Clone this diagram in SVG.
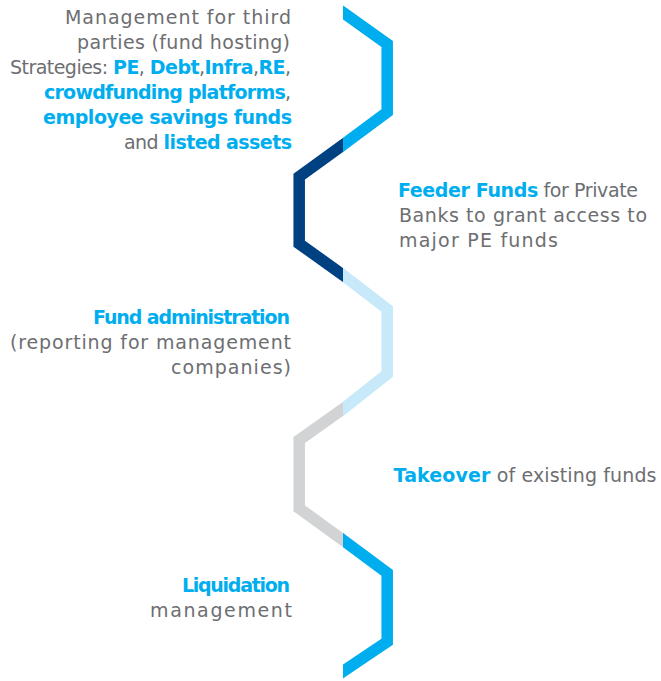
<svg xmlns="http://www.w3.org/2000/svg" width="661" height="681" viewBox="0 0 661 681">
<style>
.t{font-family:"DejaVu Sans","Liberation Sans",sans-serif;font-size:19px;fill:#6d6e71}
.b{font-weight:bold;fill:#00aeef}
.seg{fill:none;stroke-width:11.5;stroke-linejoin:miter;stroke-miterlimit:10;stroke-linecap:butt}
</style>
<defs>
<clipPath id="cr"><rect x="343" y="0" width="318" height="681"/></clipPath>
<clipPath id="cl"><rect x="0" y="0" width="343" height="681"/></clipPath>
</defs>
<g id="connectors">
<polyline class="seg" clip-path="url(#cr)" stroke="#00aeef" points="330,3.2 343,12.5 387.2,44 387.2,112 343,145 330,154.7"/>
<polyline class="seg" clip-path="url(#cl)" stroke="#004182" points="356,135.7 343,145 299.2,176.7 299.2,243.7 343,275 356,284.3"/>
<polyline class="seg" clip-path="url(#cr)" stroke="#c7e9f9" points="330,265.2 343,275 387.2,309 387.2,374 343,409 330,419.3"/>
<polyline class="seg" clip-path="url(#cl)" stroke="#d1d3d4" points="356,399.7 343,409 299.2,440 299.2,508.3 343,540 356,549.4"/>
<polyline class="seg" clip-path="url(#cr)" stroke="#00aeef" points="330,530.3 343,540 387.2,573 387.2,641.7 343,671.5 330,680.3"/>
</g>
<g id="management" text-anchor="end">
<text class="t" x="291" y="24" textLength="226">Management for third</text>
<text class="t" x="290" y="49" textLength="213">parties (fund hosting)</text>
<text class="t" x="291" y="74" textLength="281">Strategies: <tspan class="b">PE</tspan>, <tspan class="b">Debt</tspan>,<tspan class="b">Infra</tspan>,<tspan class="b">RE</tspan>,</text>
<text class="t" x="291" y="99" textLength="247"><tspan class="b">crowdfunding platforms</tspan>,</text>
<text class="t" x="292" y="124" textLength="249"><tspan class="b">employee savings funds</tspan></text>
<text class="t" x="292" y="149" textLength="168">and <tspan class="b">listed assets</tspan></text>
</g>
<g id="feeder">
<text class="t" x="398" y="197" textLength="240"><tspan class="b">Feeder Funds</tspan> for Private</text>
<text class="t" x="399" y="222" textLength="248">Banks to grant access to</text>
<text class="t" x="399" y="247" textLength="159">major PE funds</text>
</g>
<g id="administration" text-anchor="end">
<text class="t" x="290" y="324" textLength="197"><tspan class="b">Fund administration</tspan></text>
<text class="t" x="291" y="349" textLength="281">(reporting for management</text>
<text class="t" x="291" y="374" textLength="120">companies)</text>
</g>
<g id="takeover">
<text class="t" x="393.5" y="482" textLength="263"><tspan class="b">Takeover</tspan> of existing funds</text>
</g>
<g id="liquidation" text-anchor="end">
<text class="t" x="290" y="592" textLength="108"><tspan class="b">Liquidation</tspan></text>
<text class="t" x="292" y="617" textLength="142">management</text>
</g>
</svg>
